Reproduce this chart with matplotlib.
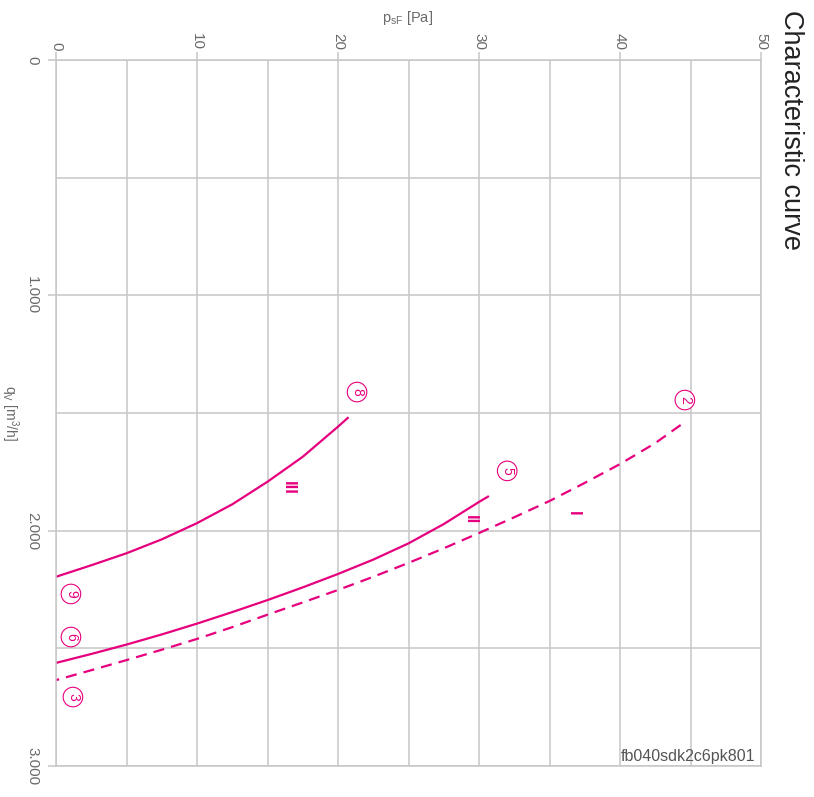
import numpy as np
import matplotlib
matplotlib.use('Agg')
import matplotlib.pyplot as plt

plt.rcParams['font.family'] = ['Liberation Sans', 'DejaVu Sans']
plt.rcParams['mathtext.default'] = 'regular'

MAG = '#e6007e'
GRID = '#c6c6c6'
TXT = '#6a6a6a'

# ── data (original chart: flow qV on x, pressure psF on y; drawn rotated) ──
# curve III (points 8 -> 9)
q_III = [1518, 1558, 1686, 1792, 1888, 1968, 2037, 2096, 2147, 2196]
p_III = [20.75, 20.0, 17.5, 15.0, 12.5, 10.0, 7.5, 5.0, 2.5, 0.0]
# curve II (points 5 -> 6)
q_II = [1853, 1878, 1972, 2054, 2123, 2184, 2241, 2295, 2346, 2395, 2441, 2484, 2524, 2562]
p_II = [30.7, 30.0, 27.5, 25.0, 22.5, 20.0, 17.5, 15.0, 12.5, 10.0, 7.5, 5.0, 2.5, 0.0]
# curve I, dashed (points 2 -> 3)
q_I = [1551, 1628, 1717, 1797, 1874, 1943, 2010, 2075, 2137, 2196, 2252,
       2305, 2357, 2410, 2460, 2506, 2550, 2593, 2635]
p_I = [44.3, 42.5, 40.0, 37.5, 35.0, 32.5, 30.0, 27.5, 25.0, 22.5, 20.0,
       17.5, 15.0, 12.5, 10.0, 7.5, 5.0, 2.5, 0.0]

# circled point labels: (label, q, p)
point_labels = [('8', 1411, 21.35), ('9', 2269, 1.06), ('5', 1746, 32.0),
                ('6', 2452, 1.06), ('2', 1445, 44.6), ('3', 2707, 1.2)]
# curve numerals: (label, q, p)
curve_labels = [('III', 1819, 16.45), ('II', 1955, 29.4), ('I', 1925, 36.7)]

q_major = [0, 1000, 2000, 3000]
q_ticklabels = ['0', '1.000', '2.000', '3.000']
p_major = [0, 10, 20, 30, 40, 50]

# ── figure ────────────────────────────────────────────────────────────────
fig = plt.figure(figsize=(8.14, 7.97), dpi=100, facecolor='white')
ax = fig.add_axes([56/814, 1-766/797, (761-56)/814, (766-60)/797])

ax.plot(p_III, q_III, color=MAG, lw=1.6, solid_capstyle='butt')
ax.plot(p_II, q_II, color=MAG, lw=1.6, solid_capstyle='butt')
ax.plot(p_I, q_I, color=MAG, lw=1.6, dashes=(5, 3.2))

for lab, q, p in point_labels:
    ax.text(p, q, lab, rotation=270, ha='center', va='center', color=MAG,
            fontsize=10, bbox=dict(boxstyle='circle,pad=0.2', fc='white', ec=MAG, lw=0.8))
for lab, q, p in curve_labels:
    ax.text(p, q, lab, rotation=270, ha='center', va='center', color=MAG,
            fontsize=12, fontweight='bold')

ax.set_xlim(0, 50)
ax.set_ylim(3000, 0)
ax.xaxis.tick_top()
ax.set_xticks(p_major)
ax.set_xticks(np.arange(0, 51, 5), minor=True)
ax.set_xticklabels([str(v) for v in p_major], rotation=270, color=TXT, fontsize=11)
ax.set_yticks(q_major)
ax.set_yticks(np.arange(0, 3001, 500), minor=True)
ax.set_yticklabels(q_ticklabels, rotation=270, color=TXT, fontsize=11, va='center')
ax.tick_params(which='major', length=6, color=GRID, width=1.1)
ax.tick_params(axis='x', which='major', pad=1)
ax.tick_params(axis='y', which='major', pad=6)
ax.tick_params(which='minor', length=0)
ax.grid(True, which='both', color=GRID, lw=1.1)
ax.set_axisbelow(True)
for s in ax.spines.values():
    s.set_color(GRID)
    s.set_linewidth(1.1)

fig.text(408/814, 1-18/797, r'p$_{sF}$ [Pa]', ha='center', va='center', color=TXT, fontsize=10.5)
fig.text(10/814, 1-413/797, r'q$_V$ [m$^3$/h]', rotation=270, ha='center', va='center',
         color=TXT, fontsize=10)
fig.text(791/814, 1-10/797, 'Characteristic curve', rotation=270, ha='center', va='top',
         color='#222222', fontsize=19.5)
fig.text(755/814, 1-757/797, 'fb040sdk2c6pk801', ha='right', va='center',
         color='#555555', fontsize=11.5)

fig.savefig('out.png', dpi=100, facecolor='white')
